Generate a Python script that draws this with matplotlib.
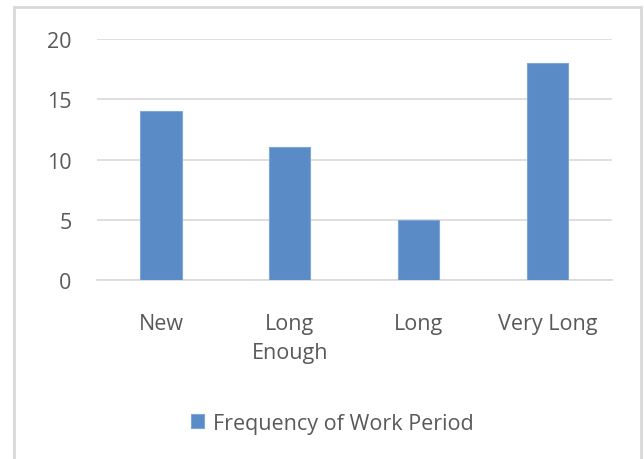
import matplotlib
matplotlib.use("Agg")
import matplotlib.pyplot as plt
from matplotlib.patches import Rectangle

categories = ["New", "Long\nEnough", "Long", "Very Long"]
values = [14, 11, 5, 18]
yticks = [0, 5, 10, 15, 20]
series_name = "Frequency of Work Period"

plt.rcParams['font.family'] = ['Open Sans', 'DejaVu Sans']
txt = "#595959"

fig = plt.figure(figsize=(6.44, 4.6), dpi=100)
ax = fig.add_axes([0.150, 0.389, 0.800, 0.524])
x = range(len(categories))
ax.bar(x, values, width=0.32, color="#5b8bc6", edgecolor="#7ea6d6", linewidth=0.8,
       label=series_name, zorder=3)
ax.set_xlim(-0.5, len(categories) - 0.5)
ax.set_ylim(0, 20)
ax.set_yticks(yticks)
ax.set_yticklabels([str(v) for v in yticks], color=txt, fontsize=15.5)
ax.set_xticks(list(x))
ax.set_xticklabels(categories, color=txt, fontsize=15.5, linespacing=1.5)
ax.yaxis.grid(True, color="#d9d9d9", linewidth=1.2, zorder=0)
for s in ["top", "right", "left"]:
    ax.spines[s].set_visible(False)
ax.spines["bottom"].set_color("#d9d9d9")
ax.spines["bottom"].set_linewidth(1.2)
ax.tick_params(axis="both", length=0)
ax.tick_params(axis="y", pad=18)
ax.tick_params(axis="x", pad=24)

leg = fig.legend(loc="center", bbox_to_anchor=(0.516, 0.078), frameon=False,
                 fontsize=15.5, handlelength=0.6, handleheight=0.6, handletextpad=0.4)
for t in leg.get_texts():
    t.set_color(txt)

fig.patches.append(Rectangle((14/644, -0.01), (641-14)/644, 1 - 8/460 + 0.01,
                             transform=fig.transFigure, fill=False,
                             edgecolor="#d9d9d9", linewidth=2))
fig.savefig("out.png", dpi=100, facecolor="white")
